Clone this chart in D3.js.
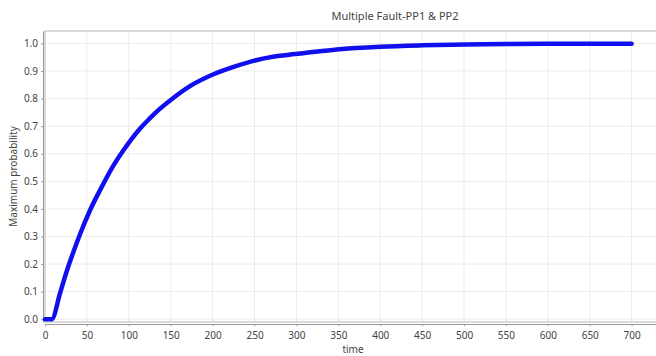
<!DOCTYPE html>
<html>
<head>
<meta charset="utf-8">
<script src="https://cdn.jsdelivr.net/npm/d3@7"></script>
<style>
  body { margin: 0; background: #fff; }
  text { font-family: "Noto Sans", "Open Sans", sans-serif; fill: #444; }
  .grid line { stroke: #ececec; stroke-width: 1; }
  .axis path, .axis line { stroke: #999; }
</style>
</head>
<body>
<script>
// values
var times = [0, 8, 18, 26, 34, 42, 54, 66, 80, 93, 113, 125, 133, 153, 173, 201,
    225, 253, 280, 312, 348, 400, 450, 500, 550, 600, 650, 700];
var probs = [0, 0, 0.095, 0.175, 0.245, 0.31, 0.397, 0.47, 0.549, 0.61, 0.69, 0.728,
    0.752, 0.802, 0.845, 0.888, 0.915, 0.94, 0.955, 0.966, 0.978, 0.988, 0.993, 0.996,
    0.998, 0.999, 0.999, 0.999];
var xTicks = d3.range(0, 701, 50);
var yTicks = d3.range(0, 11).map(i => i / 10);

var width = 656,
    height = 356,
    margin = { top: 31, right: -5, bottom: 34, left: 45 };

var svg = d3.select("body").append("svg")
    .attr("width", width)
    .attr("height", height);

var x = d3.scaleLinear().domain([0, 735]).range([margin.left, width - margin.right]);
var y = d3.scaleLinear().domain([-0.01, 1.045]).range([height - margin.bottom, margin.top]);

var x0 = margin.left, x1 = width - margin.right,
    y0 = height - margin.bottom, y1 = margin.top;

// grid
var grid = svg.append("g").attr("class", "grid");
grid.selectAll(".v").data(xTicks.slice(1)).enter().append("line")
    .attr("x1", d => x(d)).attr("x2", d => x(d))
    .attr("y1", y1).attr("y2", y0);
grid.selectAll(".h").data(yTicks).enter().append("line")
    .attr("x1", x0).attr("x2", x1)
    .attr("y1", d => y(d)).attr("y2", d => y(d));

// frame
svg.append("rect")
    .attr("x", x0).attr("y", y1)
    .attr("width", x1 - x0).attr("height", y0 - y1)
    .attr("fill", "none").attr("stroke", "#b5b5b5");

// axes
var xAxis = svg.append("g").attr("class", "axis")
    .attr("transform", "translate(0," + (y0 + 2) + ")")
    .call(d3.axisBottom(x).tickValues(xTicks).tickSize(2).tickSizeOuter(0));
var yAxis = svg.append("g").attr("class", "axis")
    .attr("transform", "translate(" + (x0 - 2) + ",0)")
    .call(d3.axisLeft(y).tickValues(yTicks).tickFormat(d3.format(".1f")).tickSize(2).tickSizeOuter(0));
[xAxis, yAxis].forEach(function (a) {
    a.selectAll("text").style("font-size", "10px").attr("fill", "#444");
});
xAxis.selectAll("text").attr("dy", "0.95em");

// curve
var line = d3.line()
    .x((d, i) => x(times[i]))
    .y(d => y(d))
    .curve(d3.curveMonotoneX);
svg.append("path")
    .datum(probs)
    .attr("d", line)
    .attr("fill", "none")
    .attr("stroke", "#1010ee")
    .attr("stroke-width", 4.5)
    .attr("stroke-linejoin", "round")
    .attr("stroke-linecap", "round");

// labels
svg.append("text")
    .attr("x", 395).attr("y", 20)
    .attr("text-anchor", "middle")
    .style("font-size", "11px")
    .attr("fill", "#333")
    .text("Multiple Fault-PP1 & PP2");

svg.append("text")
    .attr("x", (x0 + x1) / 2).attr("y", 353)
    .attr("text-anchor", "middle")
    .style("font-size", "10px")
    .text("time");

svg.append("text")
    .attr("transform", "translate(17," + ((y0 + y1) / 2) + ") rotate(-90)")
    .attr("text-anchor", "middle")
    .style("font-size", "10px")
    .text("Maximum probability");
</script>
</body>
</html>
